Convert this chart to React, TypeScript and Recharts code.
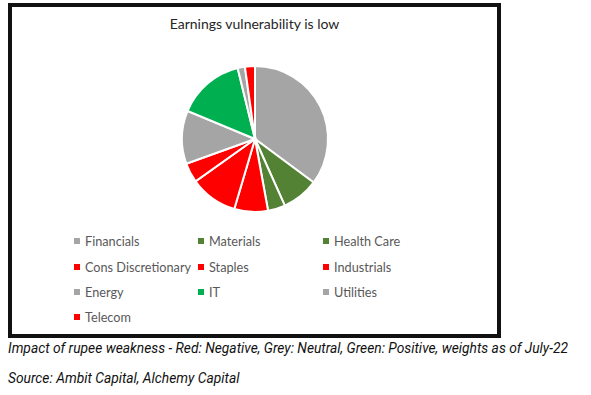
import React from "react";
import { PieChart, Pie, Cell, Legend } from "recharts";

const sectors = ["Financials", "Materials", "Health Care", "Cons Discretionary", "Staples", "Industrials", "Energy", "IT", "Utilities", "Telecom"];
const weights = [34.9, 8.1, 3.8, 7.4, 10.5, 4.3, 11.7, 14.8, 1.6, 2.2];
const colors = ["#A5A5A5", "#548235", "#548235", "#FF0000", "#FF0000", "#FF0000", "#A5A5A5", "#00B050", "#A5A5A5", "#FF0000"];

const title = "Earnings vulnerability is low";
const caption = "Impact of rupee weakness - Red: Negative, Grey: Neutral, Green: Positive, weights as of July-22";
const source = "Source: Ambit Capital, Alchemy Capital";

const data = sectors.map((name, i) => ({ name, value: weights[i] }));

const colX = [66, 190, 315];
const rowY = [0, 26, 51, 76];

const renderLegend = () => (
  <div style={{ position: "relative", width: 493, height: 100 }}>
    {sectors.map((s, i) => {
      const c = i % 3;
      const r = Math.floor(i / 3);
      return (
        <div
          key={s}
          style={{
            position: "absolute",
            left: colX[c],
            top: rowY[r],
            display: "flex",
            alignItems: "center",
            height: 16,
            fontFamily: "Lato, 'Open Sans', sans-serif",
            fontSize: 12.7,
            color: "#595959",
            whiteSpace: "nowrap",
          }}
        >
          <span style={{ display: "inline-block", width: 6, height: 6, background: colors[i], marginRight: 5 }} />
          {s}
        </div>
      );
    })}
  </div>
);

export default function App() {
  return (
    <div style={{ position: "absolute", left: 0, top: 0, width: 591, height: 395, background: "#fff" }}>
      <div
        style={{
          position: "absolute",
          left: 8,
          top: 3,
          width: 493,
          height: 335,
          border: "4px solid #111",
          boxSizing: "border-box",
        }}
      />
      <div
        style={{
          position: "absolute",
          left: 8,
          top: 15,
          width: 493,
          textAlign: "center",
          fontFamily: "Lato, 'Open Sans', sans-serif",
          fontSize: 14,
          color: "#262626",
        }}
      >
        {title}
      </div>
      <div style={{ position: "absolute", left: 8, top: 3 }}>
        <PieChart width={493} height={335} margin={{ top: 0, right: 0, bottom: 0, left: 0 }}>
          <Pie
            data={data}
            dataKey="value"
            nameKey="name"
            cx={247}
            cy={136}
            outerRadius={73}
            startAngle={90}
            endAngle={-270}
            stroke="#ffffff"
            strokeWidth={2}
            isAnimationActive={false}
          >
            {data.map((d, i) => (
              <Cell key={d.name} fill={colors[i]} />
            ))}
          </Pie>
          <Legend
            content={renderLegend}
            wrapperStyle={{ position: "absolute", left: 0, top: 230, width: 493 }}
          />
        </PieChart>
      </div>
      <div
        style={{
          position: "absolute",
          left: 8,
          top: 340,
          fontFamily: "Roboto, sans-serif",
          fontStyle: "italic",
          fontSize: 13.8,
          color: "#111",
          whiteSpace: "nowrap",
        }}
      >
        {caption}
      </div>
      <div
        style={{
          position: "absolute",
          left: 8,
          top: 370,
          fontFamily: "Roboto, sans-serif",
          fontStyle: "italic",
          fontSize: 13.8,
          color: "#111",
          whiteSpace: "nowrap",
        }}
      >
        {source}
      </div>
    </div>
  );
}
